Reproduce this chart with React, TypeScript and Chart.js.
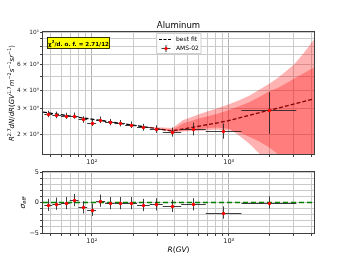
import React, { useEffect, useRef } from "react";
import { Chart, registerables } from "chart.js";

Chart.register(...registerables);

// ---------------- data ----------------
const rigidity = [48, 55.2, 64.3, 73.9, 85.6, 99.5, 115.7, 135, 160, 193, 237, 293, 385, 548, 908, 1966];
const binLow = [45, 51.5, 59.5, 69, 80, 92.5, 107.5, 125, 147, 175, 214, 265, 330, 450, 680, 1240];
const binHigh = [51.5, 59.5, 69, 80, 92.5, 107.5, 125, 147, 175, 214, 265, 330, 450, 680, 1240, 3120];
const flux = [2.76, 2.72, 2.68, 2.69, 2.53, 2.4, 2.52, 2.43, 2.39, 2.33, 2.24, 2.18, 2.08, 2.19, 2.12, 2.95];
const fluxErr = [0.14, 0.14, 0.13, 0.13, 0.13, 0.12, 0.13, 0.12, 0.12, 0.12, 0.12, 0.13, 0.15, 0.22, 0.25, 0.93];
const residual = [-0.4, -0.2, -0.1, 0.4, -0.8, -1.2, 0.3, -0.1, -0.1, -0.1, -0.4, -0.3, -0.55, -0.3, -1.65, 0.0];
const residualErr = [1, 1, 1, 1, 1, 1, 1, 1, 1, 1, 1, 1, 1, 1, 1, 1];

const fitR = [44, 100, 200, 300, 385, 550, 700, 1000, 2000, 4200];
const fitFlux = [2.84, 2.54, 2.31, 2.19, 2.11, 2.24, 2.33, 2.48, 2.93, 3.5];

const bandR = [250, 390, 461, 614, 817, 1017, 1203, 1423, 1684, 1992, 2279, 2478, 3000, 3500, 4200];
const outerUpper = [2.26, 2.21, 2.5, 2.76, 3.0, 3.22, 3.44, 3.69, 4.05, 4.45, 4.85, 5.16, 6.0, 7.1, 8.9];
const innerUpper = [2.25, 2.15, 2.37, 2.58, 2.76, 2.95, 3.13, 3.33, 3.62, 3.95, 4.15, 4.33, 4.8, 5.2, 5.72];
const innerLower = [2.24, 2.09, 2.12, 2.18, 2.23, 2.18, 1.95, 1.72, 1.47, 1.2, 1.0, 1.0, 1.0, 1.0, 1.0];
const outerLower = [2.23, 2.08, 2.09, 2.12, 2.15, 2.13, 2.06, 1.92, 1.78, 1.62, 1.47, 1.3, 1.0, 1.0, 1.0];

const xTicks = [50, 60, 70, 80, 90, 100, 200, 300, 400, 500, 600, 700, 800, 900, 1000, 2000, 3000, 4000];
const xTickLabels: Record<number, string> = { 100: "10²", 1000: "10³" };
const yTicksTop = [2, 3, 4, 5, 6, 7, 8, 9, 10];
const yTickLabelsTop: Record<number, string> = { 2: "2 × 10⁰", 3: "3 × 10⁰", 4: "4 × 10⁰", 6: "6 × 10⁰", 10: "10¹" };
const yTicksBottom = [-5, -4, -3, -2, -1, 0, 1, 2, 3, 4, 5];
const yTickLabelsBottom: Record<number, string> = { [-5]: "−5", 0: "0", 5: "5" };

const titleText = "Aluminum";
const chiValue = "2.71/12";
const legendFit = "best fit";
const legendData = "AMS-02";

// ---------------- helpers ----------------
const FONT = '"DejaVu Sans"';
type Seg = { t: string; it?: boolean; sup?: boolean; sub?: boolean };

function segFont(seg: Seg, size: number, weight: string) {
  const fs = seg.sup || seg.sub ? size * 0.7 : size;
  return `${seg.it ? "italic " : ""}${weight} ${fs}px ${FONT}`;
}
function richWidth(ctx: CanvasRenderingContext2D, segs: Seg[], size: number, weight = "normal") {
  let w = 0;
  for (const s of segs) {
    ctx.font = segFont(s, size, weight);
    w += ctx.measureText(s.t).width;
  }
  return w;
}
function drawRich(ctx: CanvasRenderingContext2D, segs: Seg[], x: number, y: number, size: number, align: "center" | "left", weight = "normal") {
  const w = richWidth(ctx, segs, size, weight);
  let cx = align === "center" ? x - w / 2 : x;
  ctx.textAlign = "left";
  ctx.textBaseline = "alphabetic";
  for (const s of segs) {
    ctx.font = segFont(s, size, weight);
    const dy = s.sup ? -size * 0.42 : s.sub ? size * 0.22 : 0;
    ctx.fillText(s.t, cx, y + dy);
    cx += ctx.measureText(s.t).width;
  }
}

const barColor = "rgba(30,30,30,0.85)";
const gridColor = (v: number) => (v === 100 || v === 1000 ? "#b4b4b4" : "#cacaca");

function drawFrame(chart: any) {
  const { ctx, chartArea: a } = chart;
  ctx.save();
  ctx.strokeStyle = "#404040";
  ctx.lineWidth = 1;
  ctx.strokeRect(Math.round(a.left) - 0.5, Math.round(a.top) - 0.5, Math.round(a.right - a.left) + 1, Math.round(a.bottom - a.top) + 1);
  ctx.restore();
}

function drawBars(chart: any, ys: number[], yerr: number[]) {
  const { ctx, chartArea: a, scales } = chart;
  const sx = scales.x, sy = scales.y;
  ctx.save();
  ctx.beginPath();
  ctx.rect(a.left, a.top, a.right - a.left, a.bottom - a.top);
  ctx.clip();
  ctx.strokeStyle = barColor;
  ctx.lineWidth = 1;
  for (let i = 0; i < rigidity.length; i++) {
    const px = sx.getPixelForValue(rigidity[i]);
    const py = sy.getPixelForValue(ys[i]);
    const x0 = sx.getPixelForValue(binLow[i]);
    const x1 = sx.getPixelForValue(binHigh[i]);
    const y0 = sy.getPixelForValue(ys[i] - yerr[i]);
    const y1 = sy.getPixelForValue(ys[i] + yerr[i]);
    ctx.beginPath();
    ctx.moveTo(x0, Math.round(py) + 0.5);
    ctx.lineTo(x1, Math.round(py) + 0.5);
    ctx.moveTo(Math.round(px) + 0.5, y0);
    ctx.lineTo(Math.round(px) + 0.5, y1);
    ctx.stroke();
  }
  ctx.fillStyle = "#ff0000";
  for (let i = 0; i < rigidity.length; i++) {
    const px = sx.getPixelForValue(rigidity[i]);
    const py = sy.getPixelForValue(ys[i]);
    ctx.beginPath();
    ctx.arc(Math.round(px) + 0.5, Math.round(py) + 0.5, 1.7, 0, Math.PI * 2);
    ctx.fill();
  }
  ctx.restore();
}

const upperPlugin = {
  id: "upperDecor",
  afterDatasetsDraw(chart: any) {
    drawBars(chart, flux, fluxErr);
  },
  afterDraw(chart: any) {
    const { ctx, chartArea: a } = chart;
    drawFrame(chart);
    ctx.save();
    ctx.fillStyle = "#000";
    // title
    ctx.font = `8.5px ${FONT}`;
    ctx.textAlign = "center";
    ctx.textBaseline = "alphabetic";
    ctx.fillText(titleText, (a.left + a.right) / 2, 27.5);
    // y label
    const ylab: Seg[] = [
      { t: "R", it: true }, { t: "2.7", sup: true }, { t: "dN", it: true }, { t: "/" }, { t: "dR", it: true },
      { t: "(" }, { t: "GV", it: true }, { t: "1.7", sup: true }, { t: "m", it: true }, { t: "−2", sup: true },
      { t: "s", it: true }, { t: "−1", sup: true }, { t: "sr", it: true }, { t: "−1", sup: true }, { t: ")" },
    ];
    ctx.save();
    ctx.translate(13.5, (a.top + a.bottom) / 2);
    ctx.rotate(-Math.PI / 2);
    drawRich(ctx, ylab, 0, 0, 7, "center");
    ctx.restore();
    // chi2 box
    ctx.fillStyle = "#ffff00";
    ctx.fillRect(47, 37, 63, 12);
    ctx.strokeStyle = "#000";
    ctx.lineWidth = 0.8;
    ctx.strokeRect(47.5, 37.5, 62, 11);
    ctx.fillStyle = "#000";
    const chi: Seg[] = [{ t: "χ" }, { t: "2", sup: true }, { t: "/d. o. f. = " + chiValue }];
    drawRich(ctx, chi, 78.5, 45.5, 5.6, "center", "bold");
    // legend
    ctx.fillStyle = "rgba(255,255,255,0.85)";
    ctx.strokeStyle = "#d0d0d0";
    ctx.lineWidth = 1;
    ctx.beginPath();
    ctx.rect(156.5, 33.5, 44.5, 20);
    ctx.fill();
    ctx.stroke();
    ctx.strokeStyle = "#000";
    ctx.lineWidth = 1.2;
    ctx.setLineDash([3, 1.5]);
    ctx.beginPath();
    ctx.moveTo(159, 39.5);
    ctx.lineTo(172, 39.5);
    ctx.stroke();
    ctx.setLineDash([]);
    ctx.strokeStyle = barColor;
    ctx.lineWidth = 1;
    ctx.beginPath();
    ctx.moveTo(161.5, 48.5);
    ctx.lineTo(170.5, 48.5);
    ctx.moveTo(166, 45);
    ctx.lineTo(166, 52);
    ctx.stroke();
    ctx.fillStyle = "#ff0000";
    ctx.beginPath();
    ctx.arc(166, 48.5, 1.6, 0, Math.PI * 2);
    ctx.fill();
    ctx.fillStyle = "#000";
    ctx.font = `6px ${FONT}`;
    ctx.textAlign = "left";
    ctx.textBaseline = "middle";
    ctx.fillText(legendFit, 176, 39.8);
    ctx.fillText(legendData, 176, 48.8);
    ctx.restore();
  },
};

const lowerPlugin = {
  id: "lowerDecor",
  afterDatasetsDraw(chart: any) {
    drawBars(chart, residual, residualErr);
  },
  afterDraw(chart: any) {
    const { ctx, chartArea: a } = chart;
    drawFrame(chart);
    ctx.save();
    ctx.fillStyle = "#000";
    drawRich(ctx, [{ t: "R", it: true }, { t: "(" }, { t: "GV", it: true }, { t: ")" }], (a.left + a.right) / 2, 85.5, 7.5, "center");
    ctx.save();
    ctx.translate(24.5, (a.top + a.bottom) / 2);
    ctx.rotate(-Math.PI / 2);
    drawRich(ctx, [{ t: "σ", it: true }, { t: "eff", it: true, sub: true }], 0, 0, 7.5, "center");
    ctx.restore();
    ctx.restore();
  },
};

function xScale(height: number) {
  return {
    type: "logarithmic" as const,
    min: 44,
    max: 4200,
    afterBuildTicks: (s: any) => {
      s.ticks = xTicks.map((v) => ({ value: v }));
    },
    afterFit: (s: any) => {
      s.height = height;
    },
    border: { display: false },
    grid: {
      color: (c: any) => gridColor(c.tick ? c.tick.value : 0),
      lineWidth: 1,
      tickLength: 3,
      tickColor: "#404040",
    },
    ticks: {
      autoSkip: false,
      maxRotation: 0,
      padding: 1,
      color: "#222",
      font: { family: "DejaVu Sans", size: 6.5 },
      callback: (v: any) => xTickLabels[Number(v)] ?? "",
    },
  };
}

function bandDs(vals: number[], fill: any, bg: string) {
  return {
    data: bandR.map((r, i) => ({ x: r, y: vals[i] })),
    showLine: true,
    borderWidth: 0,
    pointRadius: 0,
    fill,
    backgroundColor: bg,
    borderColor: "rgba(0,0,0,0)",
  };
}

export default function App() {
  const topRef = useRef<HTMLCanvasElement>(null);
  const botRef = useRef<HTMLCanvasElement>(null);

  useEffect(() => {
    const band = "rgba(255,0,0,0.3)";
    const top = new Chart(topRef.current as HTMLCanvasElement, {
      type: "scatter",
      data: {
        datasets: [
          bandDs(outerUpper, false, band),
          bandDs(outerLower, "-1", band),
          bandDs(innerUpper, false, band),
          bandDs(innerLower, "-1", band),
          {
            data: fitR.map((r, i) => ({ x: r, y: fitFlux[i] })),
            showLine: true,
            borderColor: "#000",
            borderWidth: 1.3,
            borderDash: [4, 2],
            pointRadius: 0,
            fill: false,
          },
        ] as any,
      },
      options: {
        responsive: false,
        animation: false,
        devicePixelRatio: 1,
        layout: { padding: { top: 32, right: 35, left: 0, bottom: 0 } },
        plugins: { legend: { display: false }, tooltip: { enabled: false }, title: { display: false } },
        scales: {
          x: xScale(12) as any,
          y: {
            type: "logarithmic",
            min: 1.47,
            max: 10,
            afterBuildTicks: (s: any) => {
              s.ticks = yTicksTop.map((v) => ({ value: v }));
            },
            afterFit: (s: any) => {
              s.width = 43;
            },
            border: { display: false },
            grid: { color: "#cacaca", lineWidth: 1, tickLength: 3, tickColor: "#404040" },
            ticks: {
              autoSkip: false,
              padding: 1,
              color: "#222",
              font: { family: "DejaVu Sans", size: 5.8 },
              callback: (v: any) => yTickLabelsTop[Number(v)] ?? "",
            },
          } as any,
        },
      },
      plugins: [upperPlugin],
    });

    const bot = new Chart(botRef.current as HTMLCanvasElement, {
      type: "scatter",
      data: {
        datasets: [
          {
            data: [
              { x: 44, y: 0 },
              { x: 4200, y: 0 },
            ],
            showLine: true,
            borderColor: "#008000",
            borderWidth: 1.5,
            borderDash: [5, 3],
            pointRadius: 0,
            fill: false,
          },
        ] as any,
      },
      options: {
        responsive: false,
        animation: false,
        devicePixelRatio: 1,
        layout: { padding: { top: 6, right: 35, left: 0, bottom: 0 } },
        plugins: { legend: { display: false }, tooltip: { enabled: false }, title: { display: false } },
        scales: {
          x: xScale(29) as any,
          y: {
            type: "linear",
            min: -5,
            max: 5,
            afterBuildTicks: (s: any) => {
              s.ticks = yTicksBottom.map((v) => ({ value: v }));
            },
            afterFit: (s: any) => {
              s.width = 43;
            },
            border: { display: false },
            grid: { color: "#cacaca", lineWidth: 1, tickLength: 3, tickColor: "#404040" },
            ticks: {
              autoSkip: false,
              padding: 1,
              color: "#222",
              font: { family: "DejaVu Sans", size: 6.5 },
              callback: (v: any) => yTickLabelsBottom[Number(v)] ?? "",
            },
          } as any,
        },
      },
      plugins: [lowerPlugin],
    });

    return () => {
      top.destroy();
      bot.destroy();
    };
  }, []);

  return (
    <div style={{ position: "absolute", left: 0, top: 0, width: 349, height: 262, background: "#fff" }}>
      <canvas ref={topRef} width={349} height={166} style={{ position: "absolute", left: 0, top: 0, width: 349, height: 166 }} />
      <canvas ref={botRef} width={349} height={96} style={{ position: "absolute", left: 0, top: 166, width: 349, height: 96 }} />
    </div>
  );
}
